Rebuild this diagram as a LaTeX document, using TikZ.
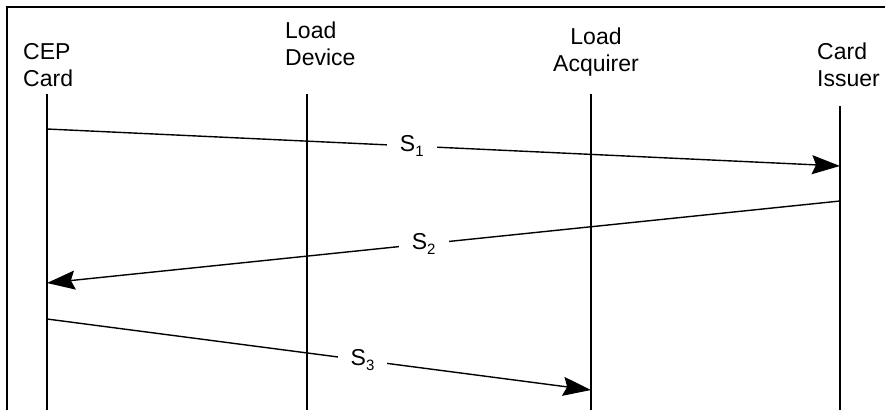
\documentclass[tikz,border=0pt]{standalone}
\usepackage{fontspec}
\setmainfont{Liberation Sans}
\usetikzlibrary{arrows.meta}

\tikzset{
  party/.style={inner sep=0pt, font=\fontsize{23}{27}\selectfont},
  lifeline/.style={line width=1.6pt},
  frameline/.style={line width=2.4pt},
  msg/.style={line width=1.4pt, -{Stealth[length=28pt,width=19pt,inset=4pt]}},
  msglabel/.style={fill=white, inner xsep=13pt, inner ysep=3pt, font=\fontsize{23}{25}\selectfont},
}
\newcommand{\sig}[1]{S\raisebox{-5pt}{\fontsize{15}{15}\selectfont #1}}

\begin{document}
\begin{tikzpicture}[x=1pt,y=-1pt]
  \useasboundingbox (0,0) rectangle (885,410);

  % open frame: left and top edges only
  \coordinate (fbl) at (7,410);
  \coordinate (ftl) at (7,7);
  \coordinate (ftr) at (885,7);
  \draw[frameline] (fbl) -- (ftl) -- (ftr);

  % parties
  \node[party, anchor=north west, align=left] (cep) at (23,43) {CEP\\Card};
  \node[party, anchor=north west, align=left] (dev) at (285,22) {Load\\Device};
  \node[party, anchor=north, align=center] (acq) at (596,28) {Load\\Acquirer};
  \node[party, anchor=north west, align=left] (iss) at (817,43) {Card\\Issuer};

  % lifelines
  \coordinate (cepT) at (47,94);   \coordinate (cepB) at (47,410);
  \coordinate (devT) at (307,94);  \coordinate (devB) at (307,410);
  \coordinate (acqT) at (591,94);  \coordinate (acqB) at (591,410);
  \coordinate (issT) at (840,106); \coordinate (issB) at (840,410);
  \draw[lifeline] (cepT) -- (cepB);
  \draw[lifeline] (devT) -- (devB);
  \draw[lifeline] (acqT) -- (acqB);
  \draw[lifeline] (issT) -- (issB);

  % message end points
  \coordinate (m1s) at (47,129);  \coordinate (m1e) at (840,166);
  \coordinate (m2s) at (840,201); \coordinate (m2e) at (47,283);
  \coordinate (m3s) at (47,319);  \coordinate (m3e) at (591,390);

  % messages
  \draw[msg] (m1s) -- node[msglabel, pos=0.46] (s1) {\sig{1}} (m1e);
  \draw[msg] (m2s) -- node[msglabel, pos=0.525] (s2) {\sig{2}} (m2e);
  \draw[msg] (m3s) -- node[msglabel, pos=0.58] (s3) {\sig{3}} (m3e);
\end{tikzpicture}
\end{document}
